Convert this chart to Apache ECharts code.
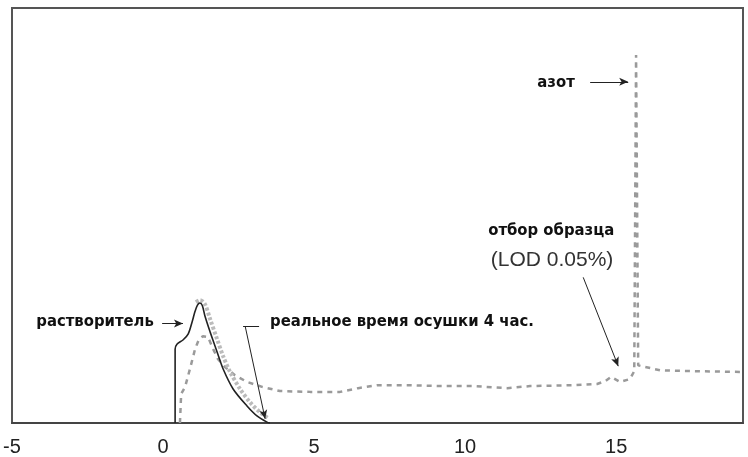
<!DOCTYPE html>
<html><head><meta charset="utf-8">
<script src="https://cdn.jsdelivr.net/npm/echarts@6/dist/echarts.min.js"></script>
<style>html,body{margin:0;padding:0;background:#fff}#c{width:748px;height:457px}</style>
</head><body><div id="c"></div>
<script>
// x-axis tick labels
const xTicks = [-5, 0, 5, 10, 15];
// solvent trace (solid)
const solventX = [0.40, 0.40, 0.46, 0.66, 0.83, 0.96, 1.06, 1.14, 1.22, 1.30, 1.39, 1.56, 1.79, 1.99, 2.32, 2.78, 3.11, 3.44, 3.54];
const solventY = [0, 17.8, 19.0, 20.0, 21.4, 24.3, 26.9, 28.4, 28.9, 28.3, 25.7, 21.9, 17.1, 13.0, 8.2, 4.1, 1.7, 0.2, 0];
// drying trace (light grey dotted)
const dryX = [1.09, 1.23, 1.39, 1.56, 1.79, 1.99, 2.22, 2.55, 2.88, 3.21, 3.48];
const dryY = [29.1, 29.6, 28.6, 25.0, 20.2, 16.1, 12.3, 8.2, 5.0, 2.6, 1.2];
// sample / nitrogen trace (dashed)
const sampleX = [0.56, 0.60, 0.73, 0.89, 1.06, 1.19, 1.32, 1.49, 1.66, 1.82, 2.05, 2.38, 2.78, 3.28, 3.87, 4.87, 5.86, 6.46, 7.09, 8.08, 9.17, 10.26, 11.39, 12.15, 13.58, 14.37, 14.64, 14.83, 15.13, 15.46, 15.60, 15.66, 15.73, 15.96, 16.46, 17.55, 19.21];
const sampleY = [0, 7.0, 8.7, 13.0, 17.8, 20.2, 20.9, 20.7, 17.8, 15.4, 13.5, 11.5, 9.9, 8.7, 7.7, 7.5, 7.5, 8.4, 9.1, 9.1, 8.9, 8.9, 8.4, 8.9, 9.1, 9.4, 10.1, 11.1, 9.9, 10.6, 12.5, 88.7, 13.9, 13.5, 12.7, 12.5, 12.3];
// annotations
const annoTexts = ['растворитель', 'реальное время осушки 4 час.', 'азот', 'отбор образца', '(LOD 0.05%)'];
const annoX = [-2.25, 7.91, 13.01, 12.85, 12.88];
const annoY = [24.3, 24.3, 82.0, 46.4, 39.2];
const annoBold = [true, true, true, true, false];
// arrows: [x1, y1, x2, y2, arrowhead]
const arrowsX1 = [-0.03, 2.65, 2.72, 14.14, 13.91];
const arrowsY1 = [24.0, 23.3, 23.3, 82.2, 35.1];
const arrowsX2 = [0.66, 3.18, 3.38, 15.40, 15.07];
const arrowsY2 = [24.0, 23.3, 1.0, 82.2, 13.7];
const arrowHead = [true, false, true, true, true];

const zip = (a, b) => a.map((v, i) => [v, b[i]]);
const chart = echarts.init(document.getElementById('c'), null, {renderer: 'canvas'});

const markLineData = arrowsX1.map((x, i) => [
  {coord: [x, arrowsY1[i]], symbol: 'none'},
  {coord: [arrowsX2[i], arrowsY2[i]], symbol: arrowHead[i] ? 'arrow' : 'none', symbolSize: [6, 9]}
]);
const markPointData = annoTexts.map((t, i) => ({
  coord: [annoX[i], annoY[i]],
  symbolSize: 0,
  label: {
    show: true, position: 'inside', formatter: t,
    fontFamily: annoBold[i] ? '"DejaVu Sans Condensed", "Liberation Sans", Arial, sans-serif' : '"Liberation Sans", Arial, sans-serif',
    fontWeight: annoBold[i] ? 'bold' : 'normal',
    fontSize: annoBold[i] ? 16.5 : 21,
    color: annoBold[i] ? '#111' : '#333'
  }
}));

chart.setOption({
  animation: false,
  backgroundColor: '#fff',
  grid: {left: 12, right: 5, top: 8, bottom: 33, show: true, borderColor: '#555', borderWidth: 2},
  xAxis: {
    type: 'value', min: -5, max: 19.2,
    axisLine: {show: true, lineStyle: {color: '#444', width: 2}},
    axisTick: {show: false}, splitLine: {show: false},
    axisLabel: {
      showMaxLabel: false, fontSize: 20, color: '#222', margin: 14,
      fontFamily: '"Liberation Sans", Arial, sans-serif',
      formatter: v => xTicks.includes(v) ? String(v) : ''
    }
  },
  yAxis: {type: 'value', min: 0, max: 100, show: false, splitLine: {show: false}},
  series: [
    {
      name: 'sample', type: 'line', data: zip(sampleX, sampleY), showSymbol: false, smooth: false,
      lineStyle: {color: '#9a9a9a', width: 2.5, type: [5, 5]}, z: 2
    },
    {
      name: 'dry', type: 'line', data: zip(dryX, dryY), showSymbol: false, smooth: 0.3,
      lineStyle: {color: '#bbb', width: 4, type: [3, 2]}, z: 3
    },
    {
      name: 'solvent', type: 'line', data: zip(solventX, solventY), showSymbol: false, smooth: 0.3,
      lineStyle: {color: '#222', width: 1.6}, z: 4,
      markLine: {
        silent: true, animation: false,
        label: {show: false},
        lineStyle: {color: '#222', width: 1, type: 'solid'},
        data: markLineData
      },
      markPoint: {silent: true, animation: false, data: markPointData}
    }
  ]
});
</script>
</body></html>
